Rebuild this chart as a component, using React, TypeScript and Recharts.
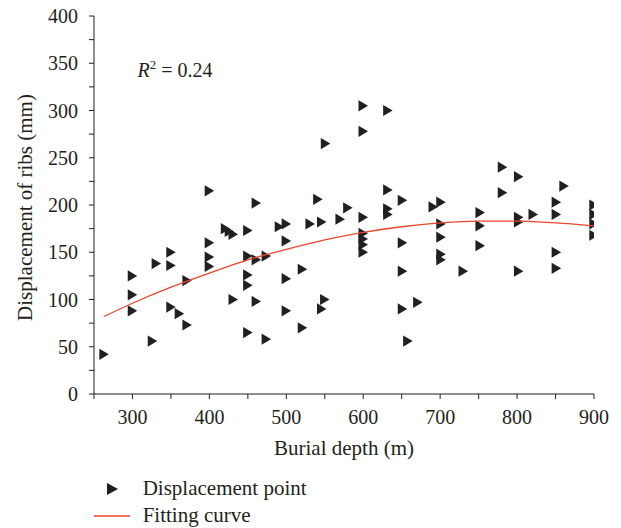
import React from 'react';
import { ScatterChart, Scatter, XAxis, YAxis } from 'recharts';

// Burial depth (m) of each measured displacement point
const depth = [
  263, 300, 300, 300, 326, 331, 350, 350, 350, 361, 371, 371,
  400, 400, 400, 400, 421, 426, 431, 450, 461, 450, 461, 474,
  450, 450, 431, 461, 450, 474, 491, 500, 500, 500, 500, 521,
  521, 531, 546, 541, 550, 546, 570, 580, 600, 632, 600, 551,
  632, 651, 600, 632, 632, 600, 600, 600, 600, 651, 651, 651,
  671, 658, 691, 701, 701, 701, 701, 701, 730, 752, 752, 752,
  781, 781, 802, 802, 802, 802, 821, 851, 851, 851, 851, 861,
  900, 900, 900, 900,
];
// Displacement of ribs (mm) for the points above
const displacement = [
  42, 125, 105, 88, 56, 138, 150, 136, 92, 85, 120, 73,
  215, 160, 145, 135, 175, 172, 169, 173, 202, 146, 142, 146,
  126, 115, 100, 98, 65, 58, 177, 180, 162, 122, 88, 132,
  70, 180, 182, 206, 100, 90, 185, 197, 305, 300, 278, 265,
  216, 205, 187, 196, 190, 170, 164, 158, 150, 160, 130, 90,
  97, 56, 198, 203, 180, 166, 148, 142, 130, 192, 178, 157,
  240, 213, 230, 187, 182, 130, 190, 203, 190, 150, 133, 220,
  200, 190, 180, 168,
];
// Fitting curve
const fitDepth = [263, 300, 350, 400, 450, 500, 550, 600, 650, 700, 750, 800, 850, 900];
const fitDisp = [82, 96, 113, 128, 142, 153, 163, 171, 177, 181, 183, 183, 181, 178];

const xTicks = [250, 300, 350, 400, 450, 500, 550, 600, 650, 700, 750, 800, 850, 900];
const yTicks = [0, 25, 50, 75, 100, 125, 150, 175, 200, 225, 250, 275, 300, 325, 350, 375, 400];

const points = depth.map((x, i) => ({ x, y: displacement[i] }));
const curve = fitDepth.map((x, i) => ({ x, y: fitDisp[i] }));

const FONT = '"Liberation Serif", "DejaVu Serif", serif';
const INK = '#231f20';
const RED = '#e8462e';

const Triangle = (props: any) => {
  const { cx, cy } = props;
  if (cx == null || cy == null) return <g />;
  return (
    <path
      d={`M${cx - 4.7},${cy - 5.6} L${cx + 4.8},${cy} L${cx - 4.7},${cy + 5.6} Z`}
      fill={INK}
    />
  );
};

const NoDot = () => <g />;

const tickStyle = { fontFamily: FONT, fontSize: 20, fill: INK };

export default function App() {
  return (
    <div style={{ position: 'absolute', left: 0, top: 0, width: 621, height: 528, background: '#fff' }}>
      <ScatterChart
        width={621}
        height={528}
        margin={{ top: 16, right: 27, bottom: 74, left: 0 }}
      >
        <XAxis
          type="number"
          dataKey="x"
          domain={[250, 900]}
          ticks={xTicks}
          interval={0}
          tickFormatter={(v: number) => (v % 100 === 0 ? String(v) : '')}
          height={60}
          tickSize={5}
          tickMargin={11}
          axisLine={{ stroke: INK, strokeWidth: 1 }}
          tickLine={{ stroke: INK, strokeWidth: 1 }}
          tick={tickStyle}
          allowDataOverflow
        />
        <YAxis
          type="number"
          dataKey="y"
          domain={[0, 400]}
          ticks={yTicks}
          interval={0}
          tickFormatter={(v: number) => (v % 50 === 0 ? String(v) : '')}
          width={94}
          tickSize={5}
          tickMargin={11}
          axisLine={{ stroke: INK, strokeWidth: 1 }}
          tickLine={{ stroke: INK, strokeWidth: 1 }}
          tick={tickStyle}
          allowDataOverflow
        />
        <Scatter
          name="Displacement point"
          data={points}
          shape={Triangle}
          isAnimationActive={false}
        />
        <Scatter
          name="Fitting curve"
          data={curve}
          shape={NoDot}
          line={{ stroke: RED, strokeWidth: 1.3 }}
          lineJointType="monotoneX"
          isAnimationActive={false}
        />
      </ScatterChart>
      <svg
        width={621}
        height={528}
        style={{ position: 'absolute', left: 0, top: 0, pointerEvents: 'none' }}
        fontFamily={FONT}
        fill={INK}
      >
        <text transform="translate(31.5,207.5) rotate(-90)" textAnchor="middle" fontSize={21}>
          Displacement of ribs (mm)
        </text>
        <text x={344} y={455} textAnchor="middle" fontSize={21}>
          Burial depth (m)
        </text>
        <text x={137.5} y={77} fontSize={20}>
          <tspan fontStyle="italic">R</tspan>
          <tspan fontSize={13} dy={-8}>2</tspan>
          <tspan dy={8}> = 0.24</tspan>
        </text>
        <path d="M107,483 L118,489 L107,495 Z" fill={INK} />
        <text x={142.7} y={495} fontSize={21}>Displacement point</text>
        <line x1={94} x2={130} y1={516} y2={516} stroke={RED} strokeWidth={1.3} />
        <text x={142.7} y={522} fontSize={21}>Fitting curve</text>
      </svg>
    </div>
  );
}
